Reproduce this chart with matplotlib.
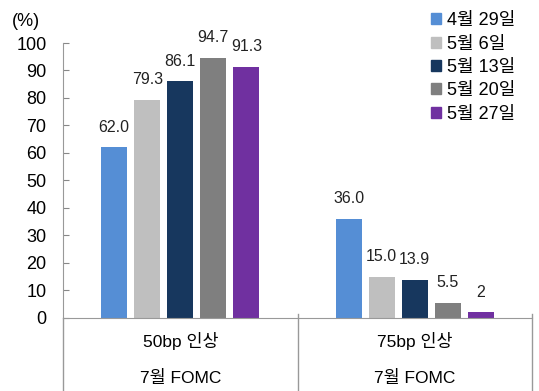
import matplotlib
matplotlib.use("Agg")
import matplotlib.pyplot as plt
from matplotlib.lines import Line2D
from matplotlib.patches import Patch
import numpy as np

plt.rcParams['font.family'] = ['Liberation Sans', 'Noto Sans CJK KR']

categories = ['50bp 인상', '75bp 인상']
group_label = '7월 FOMC'
series = ['4월 29일', '5월 6일', '5월 13일', '5월 20일', '5월 27일']
values = [
    [62.0, 36.0],
    [79.3, 15.0],
    [86.1, 13.9],
    [94.7, 5.5],
    [91.3, 2.0],
]
value_labels = [
    ['62.0', '36.0'],
    ['79.3', '15.0'],
    ['86.1', '13.9'],
    ['94.7', '5.5'],
    ['91.3', '2'],
]
colors = ['#558ED5', '#BFBFBF', '#17375E', '#7F7F7F', '#7030A0']

fig = plt.figure(figsize=(5.39, 3.91), dpi=100)
ax = fig.add_axes([0.117, 0.187, 0.87, 0.703])

x = np.arange(len(categories))
width = 0.111
step = 0.141
for i, (vals, labs, c) in enumerate(zip(values, value_labels, colors)):
    pos = x + (i - 2) * step
    ax.bar(pos, vals, width, color=c, label=series[i], zorder=2)
    for p, v, t in zip(pos, vals, labs):
        ax.annotate(t, (p, v), xytext=(0, 9), textcoords='offset points',
                    ha='center', va='bottom', fontsize=11.5, color='#222222')

ax.set_xlim(-0.5, 1.5)
ax.set_ylim(0, 100)
ax.set_yticks(range(0, 101, 10))
ax.tick_params(axis='y', direction='in', length=4, color='#888888',
               labelsize=13, pad=12)
ax.tick_params(axis='x', length=0, labelbottom=False)
for s in ['top', 'right']:
    ax.spines[s].set_visible(False)
ax.spines['left'].set_color('#999999')
ax.spines['bottom'].set_color('#999999')

# category dividers and labels below the axis
trans = ax.get_xaxis_transform()
for xv in [-0.5, 0.5, 1.5]:
    ax.add_line(Line2D([xv, xv], [-0.27, 0.0 if xv == -0.5 else 0.015],
                       transform=trans, color='#999999', lw=1, clip_on=False))
for xi, cat in zip(x, categories):
    ax.text(xi, -0.085, cat, transform=trans, ha='center', va='center',
            fontsize=12.5)
    ax.text(xi, -0.22, group_label, transform=trans, ha='center', va='center',
            fontsize=12.5)

fig.text(0.022, 0.945, '(%)', fontsize=13, va='center')

handles = [Patch(color=c) for c in colors]
ax.legend(handles, series, loc='upper left', bbox_to_anchor=(0.77, 1.138),
          frameon=False, fontsize=13, handlelength=0.55, handleheight=0.55,
          handletextpad=0.3, labelspacing=0.35, borderaxespad=0)

fig.savefig('out.png', dpi=100)
